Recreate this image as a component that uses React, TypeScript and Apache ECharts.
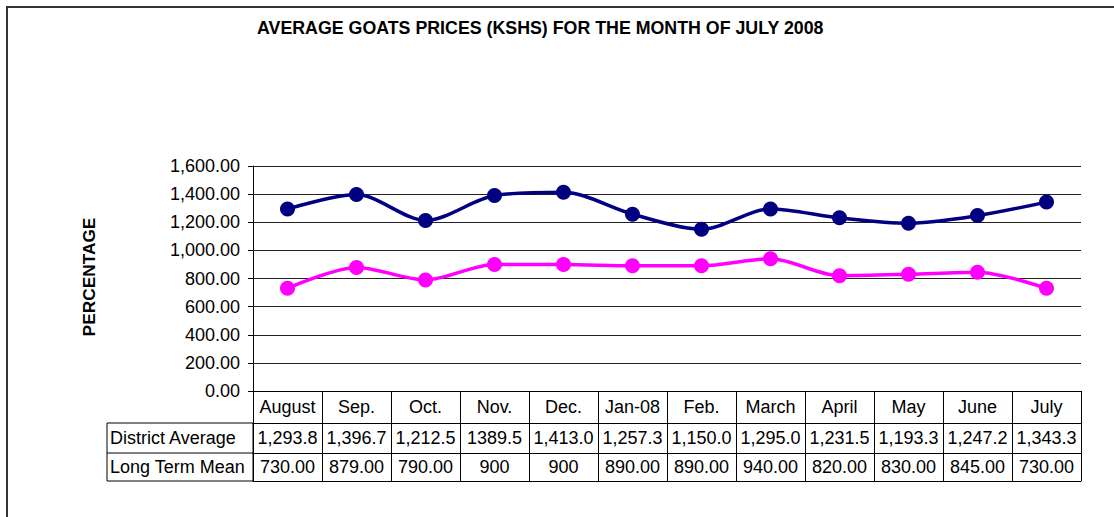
import React, { useEffect, useRef } from "react";
import * as echarts from "echarts";

const categories = ["August", "Sep.", "Oct.", "Nov.", "Dec.", "Jan-08", "Feb.", "March", "April", "May", "June", "July"];
const districtAverage = [1293.8, 1396.7, 1212.5, 1389.5, 1413.0, 1257.3, 1150.0, 1295.0, 1231.5, 1193.3, 1247.2, 1343.3];
const longTermMean = [730, 879, 790, 900, 900, 890, 890, 940, 820, 830, 845, 730];
const districtLabels = ["1,293.8", "1,396.7", "1,212.5", "1389.5", "1,413.0", "1,257.3", "1,150.0", "1,295.0", "1,231.5", "1,193.3", "1,247.2", "1,343.3"];
const longTermLabels = ["730.00", "879.00", "790.00", "900", "900", "890.00", "890.00", "940.00", "820.00", "830.00", "845.00", "730.00"];
const seriesNames = ["District Average", "Long Term Mean"];
const titleText = "AVERAGE GOATS PRICES (KSHS) FOR THE MONTH OF JULY 2008";
const yAxisName = "PERCENTAGE";

const FONT = "'Liberation Sans', Arial, sans-serif";

export default function App() {
  const ref = useRef<HTMLDivElement>(null);
  useEffect(() => {
    if (!ref.current) return;
    const chart = echarts.init(ref.current, null, { renderer: "svg" });
    const tableAxis = (labels: string[] | null, offset: number, tick: number, margin: number) => ({
      type: "category",
      data: categories,
      gridIndex: 0,
      position: "bottom",
      offset,
      boundaryGap: true,
      axisLine: { show: true, lineStyle: { color: "#000", width: 1 } },
      axisTick: { show: tick > 0, length: tick, alignWithLabel: false, interval: 0, lineStyle: { color: "#000", width: 1 } },
      axisLabel: {
        show: labels !== null,
        interval: 0,
        margin,
        verticalAlign: "middle",
        fontFamily: FONT,
        fontSize: 18,
        color: "#000",
        formatter: (_v: string, i: number) => (labels ? labels[i] : ""),
      },
      splitLine: { show: false },
    });
    chart.setOption({
      animation: false,
      backgroundColor: "#fff",
      grid: { left: 253, right: 33, top: 166, bottom: 126, containLabel: false },
      xAxis: [
        tableAxis(categories, 0, 32, 16),
        tableAxis(districtLabels, 32, 30, 15),
        tableAxis(longTermLabels, 62, 28, 14),
        tableAxis(null, 90, 0, 0),
      ],
      yAxis: {
        type: "value",
        min: 0,
        max: 1600,
        interval: 200,
        axisLine: { show: true, lineStyle: { color: "#000", width: 1 } },
        axisTick: { show: true, length: 5, lineStyle: { color: "#000" } },
        axisLabel: {
          margin: 13,
          fontFamily: FONT,
          fontSize: 18,
          color: "#000",
          formatter: (v: number) => v.toLocaleString("en-US", { minimumFractionDigits: 2, maximumFractionDigits: 2 }),
        },
        splitLine: { show: true, lineStyle: { color: "#222", width: 1 } },
      },
      series: [
        {
          name: seriesNames[0],
          type: "line",
          data: districtAverage,
          smooth: 0.3,
          symbol: "circle",
          symbolSize: 15,
          lineStyle: { color: "#000080", width: 3.5 },
          itemStyle: { color: "#000080" },
        },
        {
          name: seriesNames[1],
          type: "line",
          data: longTermMean,
          smooth: 0.3,
          symbol: "circle",
          symbolSize: 15,
          lineStyle: { color: "#FF00FF", width: 3.5 },
          itemStyle: { color: "#FF00FF" },
        },
      ],
      graphic: [
        {
          type: "rect",
          shape: { x: 7, y: 7, width: 1300, height: 700 },
          style: { fill: "none", stroke: "#333", lineWidth: 2 },
          silent: true,
        },
        {
          type: "text",
          x: 257,
          y: 28,
          style: { text: titleText, font: `bold 17.8px ${FONT}`, fill: "#000", textVerticalAlign: "middle" },
        },
        {
          type: "text",
          x: 89,
          y: 277,
          rotation: Math.PI / 2,
          style: { text: yAxisName, font: `bold 17.3px ${FONT}`, fill: "#000", textAlign: "center", textVerticalAlign: "middle" },
        },
        {
          type: "rect",
          shape: { x: 107, y: 423, width: 146, height: 58 },
          style: { fill: "none", stroke: "#000", lineWidth: 1 },
        },
        {
          type: "line",
          shape: { x1: 107, y1: 453, x2: 253, y2: 453 },
          style: { stroke: "#000", lineWidth: 1 },
        },
        {
          type: "text",
          x: 110,
          y: 438,
          style: { text: seriesNames[0], font: `18px ${FONT}`, fill: "#000", textVerticalAlign: "middle" },
        },
        {
          type: "text",
          x: 110,
          y: 467,
          style: { text: seriesNames[1], font: `18px ${FONT}`, fill: "#000", textVerticalAlign: "middle" },
        },
      ],
    });
    return () => chart.dispose();
  }, []);
  return <div ref={ref} style={{ position: "absolute", left: 0, top: 0, width: 1114, height: 517 }} />;
}
